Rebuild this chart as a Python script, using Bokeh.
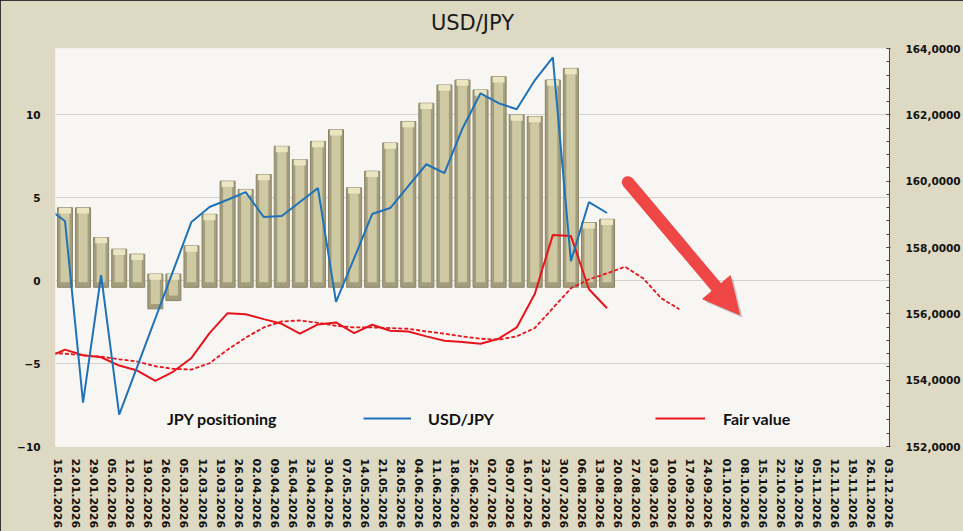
import numpy as np
from bokeh.plotting import figure
from bokeh.models import (ColumnDataSource, Range1d, LinearAxis, FixedTicker, Legend,
                          Arrow, NormalHead)
from bokeh.transform import dodge
from bokeh.embed import file_html
from bokeh.resources import INLINE

# ---------------- data ----------------
dates = ["08.01.2026", "15.01.2026", "22.01.2026", "29.01.2026", "05.02.2026", "12.02.2026",
         "19.02.2026", "26.02.2026", "05.03.2026", "12.03.2026", "19.03.2026", "26.03.2026",
         "02.04.2026", "09.04.2026", "16.04.2026", "23.04.2026", "30.04.2026", "07.05.2026",
         "14.05.2026", "21.05.2026", "28.05.2026", "04.06.2026", "11.06.2026", "18.06.2026",
         "25.06.2026", "02.07.2026", "09.07.2026", "16.07.2026", "23.07.2026", "30.07.2026",
         "06.08.2026", "13.08.2026", "20.08.2026", "27.08.2026", "03.09.2026", "10.09.2026",
         "17.09.2026", "24.09.2026", "01.10.2026", "08.10.2026", "15.10.2026", "22.10.2026",
         "29.10.2026", "05.11.2026", "12.11.2026", "19.11.2026", "26.11.2026", "03.12.2026"]

# JPY positioning (left axis), weekly from 15.01.2026
positioning = [4.4, 4.4, 2.6, 1.9, 1.6, -1.7, -1.2, 2.1, 4.0, 6.0,
               5.5, 6.4, 8.1, 7.3, 8.4, 9.1, 5.6, 6.6, 8.3, 9.6,
               10.7, 11.8, 12.1, 11.5, 12.3, 10.0, 9.9, 12.1, 12.8, 3.5, 3.7]

# USD/JPY (right axis), weekly from 08.01.2026
usdjpy = [159.19, 158.80, 153.32, 157.17, 152.96, 154.41, 155.86, 157.32, 158.77, 159.22,
          159.44, 159.67, 158.92, 158.95, 159.37, 159.79, 156.36, 157.67, 159.01, 159.19,
          159.85, 160.51, 160.24, 161.59, 162.65, 162.35, 162.17, 163.04, 163.73, 157.59,
          159.37, 159.04]

# Fair value (right axis), weekly from 08.01.2026
fair_value = [154.68, 154.92, 154.75, 154.69, 154.44, 154.29, 153.98, 154.26, 154.67, 155.42,
              156.02, 155.99, 155.84, 155.70, 155.40, 155.68, 155.74, 155.42, 155.67, 155.49,
              155.47, 155.32, 155.19, 155.15, 155.10, 155.25, 155.59, 156.60, 158.38, 158.35,
              156.74, 156.17]

# Fair value trend (dashed, right axis), weekly from 08.01.2026
fair_trend = [154.83, 154.80, 154.75, 154.71, 154.63, 154.56, 154.42, 154.34, 154.32, 154.51,
              154.92, 155.28, 155.59, 155.77, 155.80, 155.73, 155.64, 155.59, 155.59, 155.57,
              155.55, 155.47, 155.40, 155.32, 155.25, 155.22, 155.32, 155.57, 156.17, 156.77,
              157.04, 157.22, 157.42, 157.07, 156.47, 156.14]

left_ticks = [-10, -5, 0, 5, 10]
right_ticks = [152, 154, 156, 158, 160, 162, 164]
right_tick_labels = ["152,0000", "154,0000", "156,0000", "158,0000", "160,0000",
                     "162,0000", "164,0000"]

# ---------------- styling constants ----------------
BAR_SHIFT = 0.387      # bars/points sit slightly right of the date labels
BEVEL = 0.4            # 3D bevel makes every bar reach at least +-0.4
TAN_BG = "#DDD9C3"
PLOT_BG = "#F7F6F2"
BLUE = "#1F72B8"
RED = "#E8141B"
ARROW_RED = "#EF4646"
AX_FONT = "DejaVu Sans"
W, H = 963, 531
ARROW_START = (32.54, 159.97)   # trend arrow (x index, right-axis value)
ARROW_END = (38.73, 155.97)

pos = np.array(positioning)
bar_x = list(range(1, 1 + len(positioning)))
bar_top = np.maximum(pos, BEVEL)
bar_bot = np.minimum(pos, -BEVEL)
bar_src = ColumnDataSource(dict(
    x=bar_x, top=bar_top, bottom=bar_bot,
    in_top=bar_top - 0.3, in_bot=bar_bot + 0.3, cap_bot=bar_top - 0.35))

usd_src = ColumnDataSource(dict(x=list(range(len(usdjpy))), y=usdjpy))
fv_src = ColumnDataSource(dict(x=list(range(len(fair_value))), y=fair_value))
ft_src = ColumnDataSource(dict(x=list(range(len(fair_trend))), y=fair_trend))

p = figure(width=W, height=H, output_backend="svg", toolbar_location=None,
           x_range=Range1d(0.862, 47.02), y_range=Range1d(-10, 14),
           min_border_left=55, min_border_right=73, min_border_top=48, min_border_bottom=84,
           background_fill_color=PLOT_BG, border_fill_color=TAN_BG)
p.outline_line_color = None
p.styles = {"outline": "2px solid #000000", "outline-offset": "-2px"}

# title
p.title.text = "USD/JPY"
p.title.align = "center"
p.title.text_font = AX_FONT
p.title.text_font_size = "21px"
p.title.text_font_style = "normal"
p.title.text_color = "#1a1a1a"
p.title.padding = dict(left=0, right=0, top=0, bottom=9)

# grid
p.xgrid.visible = False
p.ygrid.grid_line_color = "#D2D2CE"
p.ygrid.grid_line_width = 1

# x axis
p.xaxis.ticker = FixedTicker(ticks=list(range(1, len(dates))))
p.xaxis.major_label_overrides = {i: d for i, d in enumerate(dates)}
p.xaxis.major_label_orientation = "vertical"
p.xaxis.major_label_text_font = AX_FONT
p.xaxis.major_label_text_font_style = "bold"
p.xaxis.major_label_text_font_size = "11px"
p.xaxis.major_label_text_color = "#111111"
p.xaxis.major_label_standoff = 6
p.xaxis.axis_line_color = None
p.xaxis.major_tick_line_color = None
p.xaxis.minor_tick_line_color = None

# left axis
p.yaxis.ticker = FixedTicker(ticks=left_ticks)
p.yaxis.major_label_text_font = AX_FONT
p.yaxis.major_label_text_font_style = "bold"
p.yaxis.major_label_text_font_size = "10.5px"
p.yaxis.major_label_text_color = "#111111"
p.yaxis.major_label_standoff = 9
p.yaxis.axis_line_color = None
p.yaxis.major_tick_line_color = None
p.yaxis.minor_tick_line_color = None

# right axis
p.extra_y_ranges = {"right": Range1d(152, 164)}
minor = [float(v) for v in np.round(np.arange(152, 164.001, 0.4), 2)]
rax = LinearAxis(y_range_name="right", ticker=FixedTicker(ticks=right_ticks, minor_ticks=minor))
rax.major_label_overrides = dict(zip(right_ticks, right_tick_labels))
rax.major_label_text_font = AX_FONT
rax.major_label_text_font_style = "bold"
rax.major_label_text_font_size = "10.5px"
rax.major_label_text_color = "#111111"
rax.major_label_standoff = 15
rax.axis_line_color = "#5A3A36"
rax.major_tick_line_color = "#5A3A36"
rax.minor_tick_line_color = "#5A3A36"
rax.major_tick_in = 3
rax.major_tick_out = 1
rax.minor_tick_in = 3
rax.minor_tick_out = 0
p.add_layout(rax, "right")

# bars (3D-bevel look)
bx = dodge("x", BAR_SHIFT, range=p.x_range)
p.vbar(x=bx, top="top", bottom="bottom", width=0.83, source=bar_src,
       fill_color="#A39D7C", line_color="#8A8468", line_width=1)
p.vbar(x=bx, top="in_top", bottom="in_bot", width=0.5, source=bar_src,
       fill_color="#CFC9A3", line_color=None)
p.vbar(x=bx, top="top", bottom="cap_bot", width=0.66, source=bar_src,
       fill_color="#EBE5C1", line_color=None)

# lines
lx = dodge("x", BAR_SHIFT, range=p.x_range)
ft_r = p.line(x=lx, y="y", source=ft_src, y_range_name="right", line_color=RED,
              line_width=1.8, line_dash="4 2")
fv_r = p.line(x=lx, y="y", source=fv_src, y_range_name="right", line_color=RED, line_width=2)
usd_r = p.line(x=lx, y="y", source=usd_src, y_range_name="right", line_color=BLUE, line_width=2)

# trend arrow: soft shadow, rounded tail, then the arrow itself
shadow = Arrow(end=NormalHead(size=36, fill_color="#7A7A7A", fill_alpha=0.35,
                              line_color=None),
               x_start=ARROW_START[0] + 0.16, y_start=ARROW_START[1] - 0.09,
               x_end=ARROW_END[0] + 0.16, y_end=ARROW_END[1] - 0.09,
               y_range_name="right", line_color="#7A7A7A", line_alpha=0.35,
               line_width=12, line_cap="butt")
p.add_layout(shadow)
tail = Arrow(end=None, x_start=ARROW_START[0], y_start=ARROW_START[1],
             x_end=(ARROW_START[0] + ARROW_END[0]) / 2, y_end=(ARROW_START[1] + ARROW_END[1]) / 2,
             y_range_name="right", line_color=ARROW_RED, line_width=12, line_cap="round")
p.add_layout(tail)
arrow = Arrow(end=NormalHead(size=36, fill_color=ARROW_RED, line_color=ARROW_RED),
              x_start=ARROW_START[0], y_start=ARROW_START[1],
              x_end=ARROW_END[0], y_end=ARROW_END[1],
              y_range_name="right", line_color=ARROW_RED, line_width=12, line_cap="butt")
p.add_layout(arrow)

# legends
bar_swatch = p.line(x=[], y=[], line_color="#A9A37F", line_width=6)
common = dict(background_fill_alpha=0, border_line_alpha=0, padding=0, margin=0,
              label_text_font="Lato", label_text_font_style="bold",
              label_text_font_size="16px", label_text_color="#111111",
              glyph_height=20, label_height=20, orientation="horizontal")
leg1 = Legend(items=[("JPY positioning", [bar_swatch])], location=(41, 18),
              glyph_width=53, label_standoff=18, **common)
leg2 = Legend(items=[("USD/JPY", [usd_r])], location=(308, 18),
              glyph_width=48, label_standoff=17, **common)
leg3 = Legend(items=[("Fair value", [fv_r])], location=(600, 18),
              glyph_width=50, label_standoff=18, **common)
for lg in (leg1, leg2, leg3):
    p.add_layout(lg, "center")

open("out.html", "w").write(file_html(p, INLINE))
